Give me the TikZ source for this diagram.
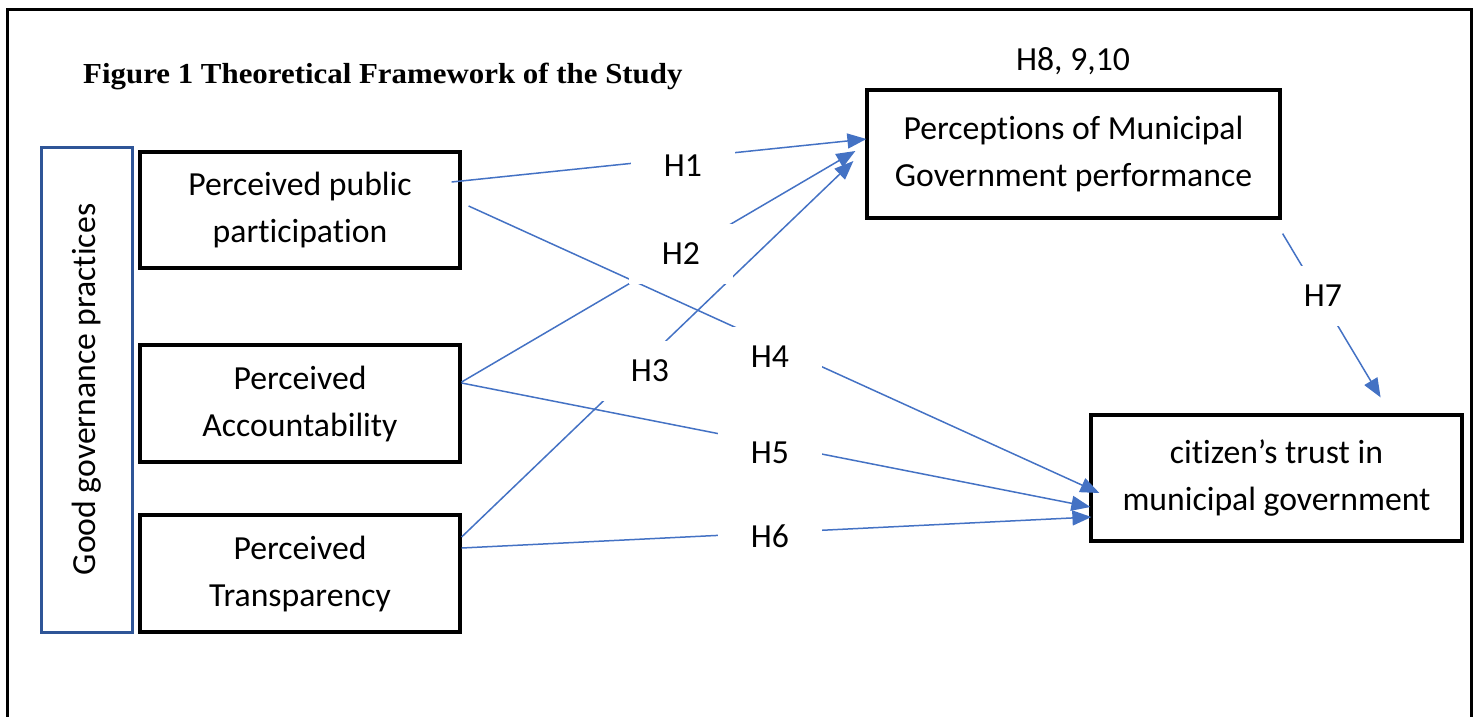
\documentclass[tikz,border=0pt]{standalone}
\usepackage{graphicx}
\usepackage{fontspec}
\setmainfont{Carlito}[Ligatures={NoCommon,NoContextual}, Contextuals=NoAlternate]
\newfontfamily\titlefont{Liberation Serif}
\usetikzlibrary{arrows.meta}
\definecolor{lineblue}{HTML}{4472C4}
\definecolor{boxblue}{HTML}{2F5597}
\newcommand\vbtext[2]{\raisebox{#1}{\begin{tabular}{@{}c@{}}#2\end{tabular}}}
\begin{document}
\begin{tikzpicture}[x=1pt,y=-1pt,
  every node/.style={font=\fontsize{33.7}{47}\selectfont},
  varbox/.style={draw=black, line width=3.2pt, align=center, inner sep=0pt},
  conn/.style={draw=lineblue, line width=1.5pt, -{Triangle[length=19pt,width=15pt]}},
  hlab/.style={fill=white, minimum width=104pt, minimum height=60pt, inner sep=0pt}]
\useasboundingbox (0,0) rectangle (1478,716);
% outer frame
\draw[line width=3pt] (7,740) -- (7,9) -- (1471,9) -- (1471,740);
% title
\node[anchor=base west, inner sep=0pt] (T) at (83,83)
  {\titlefont\bfseries\fontsize{29}{34}\selectfont\scalebox{1.065}[1]{Figure 1 Theoretical Framework of the Study}};
% boxes
\node[draw=boxblue, line width=3pt, minimum width=485pt, minimum height=91pt, rotate=90, inner sep=0pt] (G) at (86.5,389.5) {Good governance practices};
\node[varbox, minimum width=320pt, minimum height=116pt] (A) at (300,210) {\vbtext{-4pt}{Perceived public\\participation}};
\node[varbox, minimum width=320pt, minimum height=117pt] (B) at (300,403.5) {\vbtext{-3pt}{Perceived\\Accountability}};
\node[varbox, minimum width=320pt, minimum height=117pt] (C) at (300,573.5) {\vbtext{-3.5pt}{Perceived\\Transparency}};
\node[varbox, minimum width=413pt, minimum height=128pt] (D) at (1073.5,154) {\vbtext{8pt}{Perceptions of Municipal\\Government performance}};
\node[varbox, minimum width=371pt, minimum height=126pt] (E) at (1276.5,478) {\vbtext{6pt}{citizen’s trust in\\municipal government}};
\node (H8) at (1073,61.5) {H8, 9,10};
% connectors
\draw[conn] ([shift={(-10,-28)}]A.east) -- ([shift={(1,-15)}]D.west);
\draw[conn] ([shift={(0,-21.5)}]B.east) -- ([shift={(-10,-3)}]D.west);
\draw[conn] ([shift={(0,-36.5)}]C.east) -- ([shift={(-12,7)}]D.west);
\draw[conn] ([shift={(7,-4)}]A.east) -- ([shift={(10,15)}]E.west);
\draw[conn] ([shift={(0,-20.5)}]B.east) -- ([shift={(1,29)}]E.west);
\draw[conn] ([shift={(0,-25.5)}]C.east) -- ([shift={(2,39)}]E.west);
\draw[conn] ([shift={(1,14)}]D.south east) -- ([shift={(-83,-16)}]E.north east);
% hypothesis labels
\node[hlab] (h1) at (683,166) {H1};
\node[hlab] (h2) at (681,254) {H2};
\node[hlab] (h3) at (650,371) {H3};
\node[hlab] (h4) at (770,357) {H4};
\node[hlab] (h5) at (770,453) {H5};
\node[hlab] (h6) at (770,536) {H6};
\node[hlab] (h7) at (1323,296) {H7};
\end{tikzpicture}
\end{document}
